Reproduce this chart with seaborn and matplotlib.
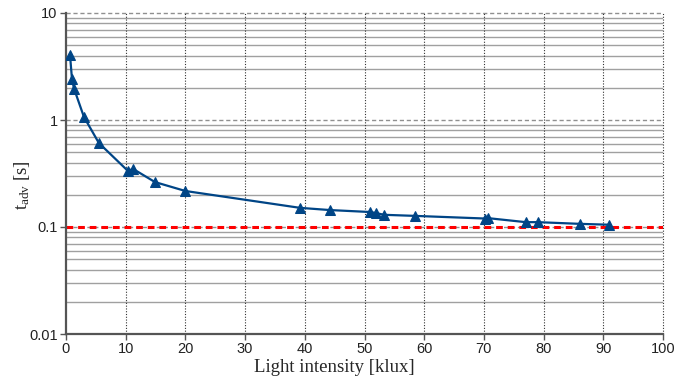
import matplotlib
matplotlib.use("Agg")
import matplotlib.pyplot as plt
import seaborn as sns
import pandas as pd
from matplotlib.ticker import FixedLocator, FixedFormatter, NullFormatter

light_klux = [0.67, 1.0, 1.34, 1.34, 3.0, 5.5, 10.4, 11.2, 14.9, 20.0,
              39.2, 44.2, 51.0, 51.9, 53.3, 58.5, 70.2, 70.7, 77.0, 79.0, 86.1, 91.0]
t_adv = [4.05, 2.42, 2.03, 1.91, 1.07, 0.61, 0.333, 0.35, 0.263, 0.217,
         0.151, 0.144, 0.138, 0.135, 0.130, 0.127, 0.120, 0.121, 0.111, 0.111, 0.107, 0.105]
threshold = 0.1
x_ticks = [0, 10, 20, 30, 40, 50, 60, 70, 80, 90, 100]
y_ticks = [0.01, 0.1, 1, 10]
y_tick_labels = ["0.01", "0.1", "1", "10"]

df = pd.DataFrame({"x": light_klux, "y": t_adv})

sns.set_theme(style="white")
plt.rcParams["font.family"] = ["Liberation Sans", "DejaVu Sans"]
plt.rcParams["mathtext.fontset"] = "custom"
plt.rcParams["mathtext.rm"] = "Liberation Serif"
plt.rcParams["mathtext.it"] = "Liberation Serif"

fig = plt.figure(figsize=(6.91, 3.81), dpi=100)
ax = fig.add_axes([66/691, 1-334/381, (663-66)/691, (334-13)/381])

ax.set_yscale("log")
ax.set_xlim(0, 100)
ax.set_ylim(0.01, 10)

# grid
minor_vals = [m * 10.0**e for e in (-2, -1, 0) for m in range(2, 10)]
for v in minor_vals:
    ax.axhline(v, color="#a0a0a0", lw=1.0, zorder=0)
for v in [0.1, 1, 10]:
    ax.axhline(v, color="#909090", lw=1.0, ls=(0, (3, 2)), zorder=0, clip_on=False)
for xv in x_ticks[1:]:
    ax.axvline(xv, color="#333333", lw=0.8, ls=(0, (1, 1.5)), zorder=0.5, clip_on=False)

ax.axhline(threshold, color="#ff0000", lw=2.2, ls=(0, (2.2, 1.6)), zorder=2)

sns.lineplot(data=df, x="x", y="y", ax=ax, color="#004586", lw=1.6,
             marker="^", markersize=6.5, markeredgecolor="#004586", sort=False, zorder=3)

for s in ["top", "right"]:
    ax.spines[s].set_visible(False)
for s in ["left", "bottom"]:
    ax.spines[s].set_color("#555555")
    ax.spines[s].set_linewidth(1.6)

ax.xaxis.set_major_locator(FixedLocator(x_ticks))
ax.yaxis.set_major_locator(FixedLocator(y_ticks))
ax.yaxis.set_major_formatter(FixedFormatter(y_tick_labels))
ax.yaxis.set_minor_locator(FixedLocator([]))
ax.yaxis.set_minor_formatter(NullFormatter())
ax.tick_params(axis="both", which="major", direction="out", length=4, width=1,
               color="#555555", labelsize=10.5, labelcolor="#222222", pad=2,
               bottom=True, left=True)

ax.set_xlabel("Light intensity [klux]", family="Liberation Serif", fontsize=13.5)
ax.set_ylabel(r"$\mathrm{t_{adv}}$ [s]", family="Liberation Serif", fontsize=13.5)
ax.xaxis.set_label_coords((334-66)/597, -(372-334)/321, transform=ax.transAxes)
ax.xaxis.label.set_va("baseline")
ax.yaxis.set_label_coords(-(66-32)/597, (334-185)/321, transform=ax.transAxes)
ax.yaxis.label.set_va("bottom")

fig.savefig("out.png", dpi=100)
